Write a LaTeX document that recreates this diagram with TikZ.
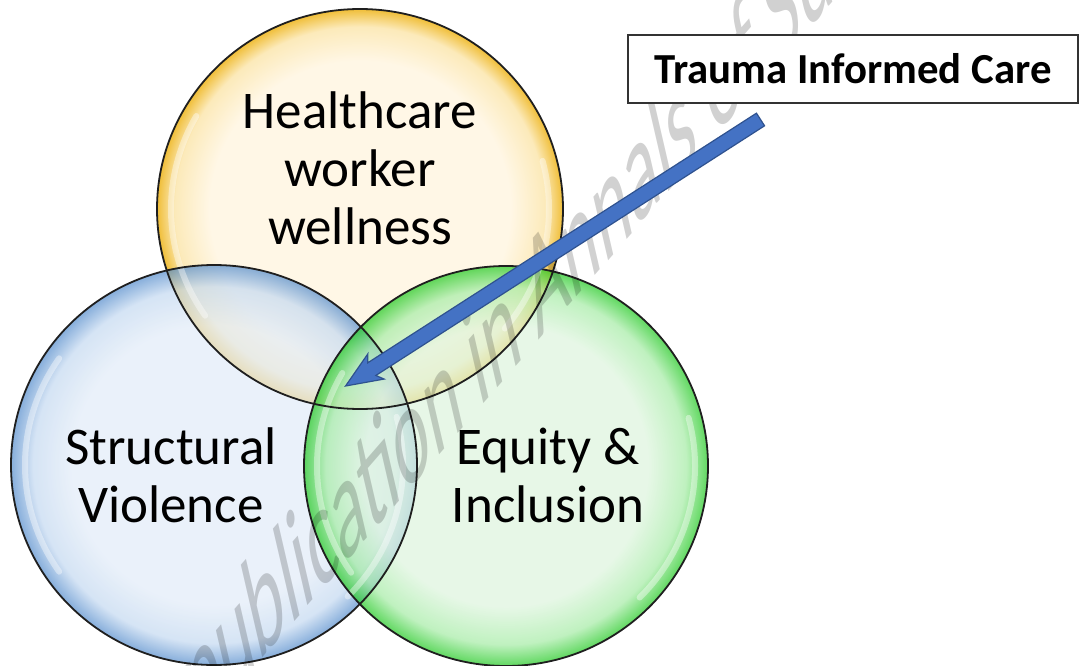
\documentclass[tikz,border=0pt]{standalone}
\usepackage{fontspec}
\setmainfont{Carlito}
\definecolor{ycen}{RGB}{255,247,230}
\definecolor{ymid}{RGB}{252,234,186}
\definecolor{yedge}{RGB}{240,190,56}
\definecolor{bcen}{RGB}{226,236,248}
\definecolor{bmid}{RGB}{196,217,241}
\definecolor{bedge}{RGB}{84,140,204}
\definecolor{gcen}{RGB}{222,245,222}
\definecolor{gmid}{RGB}{165,236,165}
\definecolor{gedge}{RGB}{30,200,30}
\definecolor{arrowblue}{RGB}{68,114,196}
\definecolor{arrowedge}{RGB}{47,82,143}
\pgfdeclareradialshading{yball}{\pgfpoint{0bp}{0bp}}{color(0bp)=(ycen); color(18.5bp)=(ycen); color(22.8bp)=(ymid); color(25bp)=(yedge); color(50bp)=(yedge)}
\pgfdeclareradialshading{bball}{\pgfpoint{0bp}{0bp}}{color(0bp)=(bcen); color(17.5bp)=(bcen); color(22.3bp)=(bmid); color(25bp)=(bedge); color(50bp)=(bedge)}
\pgfdeclareradialshading{gball}{\pgfpoint{0bp}{0bp}}{color(0bp)=(gcen); color(17.5bp)=(gcen); color(22.3bp)=(gmid); color(25bp)=(gedge); color(50bp)=(gedge)}
\begin{document}
\begin{tikzpicture}[x=1pt,y=1pt,
  lbl/.style={font=\fontsize{53}{58}\selectfont, align=center, inner sep=0pt, text=black},
  rim/.style={draw=black!88, line width=1.8pt},
  hl/.style={draw=white, line width=6pt, draw opacity=0.4, line cap=round},
  tbox/.style={draw=black!80, line width=1.1pt, fill=white, minimum width=450pt, minimum height=68pt, inner sep=0pt, font=\fontsize{42.8}{50}\selectfont\bfseries},
  arr/.style={fill=arrowblue, draw=arrowedge, line width=1.2pt, line join=miter},
  wm/.style={font=\fontsize{84}{90}\selectfont, text=black, text opacity=0.18, inner sep=0pt}]
\useasboundingbox (0,0) rectangle (1081,-666);
\clip (0,0) rectangle (1081,-666);
\fill[white] (0,0) rectangle (1081,-666);
\coordinate (yc) at (360,-209);
\coordinate (bc) at (214,-465);
\coordinate (gc) at (506,-466);
% fills
\shade[shading=yball] (yc) ellipse [x radius=203, y radius=200];
\shade[shading=bball, fill opacity=0.7] (bc) ellipse [x radius=203, y radius=200];
\shade[shading=gball, fill opacity=0.7] (gc) ellipse [x radius=202, y radius=200];
% glossy highlights
\begin{scope}[shift={(yc)}]
  \draw[hl] (150:189 and 186) arc[start angle=150, end angle=215, x radius=189, y radius=186];
  \draw[hl] (-40:189 and 186) arc[start angle=-40, end angle=15, x radius=189, y radius=186];
\end{scope}
\begin{scope}[shift={(bc)}]
  \draw[hl] (145:189 and 186) arc[start angle=145, end angle=215, x radius=189, y radius=186];
  \draw[hl] (-45:189 and 186) arc[start angle=-45, end angle=15, x radius=189, y radius=186];
\end{scope}
\begin{scope}[shift={(gc)}]
  \draw[hl] (150:189 and 186) arc[start angle=150, end angle=215, x radius=189, y radius=186];
  \draw[hl] (-45:189 and 186) arc[start angle=-45, end angle=15, x radius=189, y radius=186];
\end{scope}
% outlines
\draw[rim] (yc) ellipse [x radius=203, y radius=200];
\draw[rim] (bc) ellipse [x radius=203, y radius=200];
\draw[rim] (gc) ellipse [x radius=202, y radius=200];
% watermark
\node[wm, anchor=base west, xscale=0.8, yscale=1.784, rotate=27.3] (wmark) at (196,-735) {publication in Annals of Surgery};
% labels
\node[lbl] (hw) at (360,-168.5) {Healthcare\\worker\\wellness};
\node[lbl] (sv) at (171,-475.5) {Structural\\Violence};
\node[lbl] (ei) at (548,-475) {Equity \&\\Inclusion};
% box
\node[tbox] (tic) at (853,-69) {Trauma Informed Care};
% arrow
\coordinate (atail) at (760.5,-119.5);
\coordinate (atip) at (345.5,-386);
\begin{scope}[shift={(atail)}, rotate=212.71]
  \draw[arr] (0,-7.5) -- (462,-7.5) -- (457,-15) -- (493.2,0) -- (457,15) -- (462,7.5) -- (0,7.5) -- cycle;
\end{scope}
\end{tikzpicture}
\end{document}
